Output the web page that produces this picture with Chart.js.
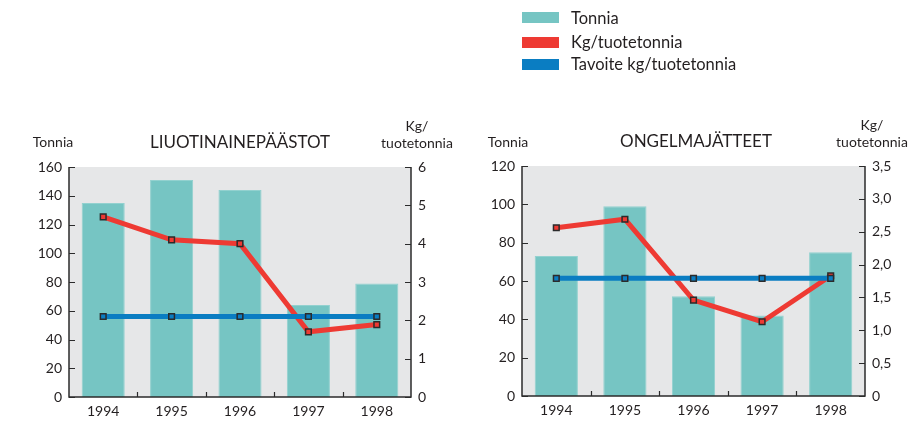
<!DOCTYPE html>
<html>
<head>
<meta charset="utf-8">
<script src="https://cdn.jsdelivr.net/npm/chart.js@4"></script>
<style>
  html,body{margin:0;padding:0;background:#fff;}
  body{width:922px;height:428px;position:relative;overflow:hidden;font-family:Lato,"Open Sans",sans-serif;color:#231f20;}
  .t{position:absolute;white-space:nowrap;transform:translate(-50%,-50%);line-height:1;}
  .lg{position:absolute;white-space:nowrap;transform:translateY(-50%);line-height:1;font-size:16.5px;}
  .sw{position:absolute;width:37px;height:11px;}
  canvas{position:absolute;top:0;}
</style>
</head>
<body>
<canvas id="c1" width="460" height="428" style="left:0"></canvas>
<canvas id="c2" width="462" height="428" style="left:460px"></canvas>

<div class="sw" style="left:522px;top:12px;background:#76c5c3"></div>
<div class="lg" style="left:571px;top:18px">Tonnia</div>
<div class="sw" style="left:522px;top:37px;background:#ee3a33"></div>
<div class="lg" style="left:571px;top:42px">Kg/tuotetonnia</div>
<div class="sw" style="left:522px;top:59px;background:#0a7dc2"></div>
<div class="lg" style="left:571px;top:64px">Tavoite kg/tuotetonnia</div>

<div class="t" style="left:53px;top:142px;font-size:14px">Tonnia</div>
<div class="t" style="left:240px;top:141px;font-size:17px">LIUOTINAINEPÄÄSTOT</div>
<div class="t" style="left:417px;top:126px;font-size:14px">Kg/</div>
<div class="t" style="left:417px;top:143px;font-size:14px">tuotetonnia</div>

<div class="t" style="left:508px;top:142px;font-size:14px">Tonnia</div>
<div class="t" style="left:696px;top:140px;font-size:17px">ONGELMAJÄTTEET</div>
<div class="t" style="left:872px;top:125px;font-size:14px">Kg/</div>
<div class="t" style="left:872px;top:142px;font-size:14px">tuotetonnia</div>

<script>
// ---- data ----
const years = ['1994', '1995', '1996', '1997', '1998'];

const solventTonnes = [135, 151, 144, 64, 79];
const solventKgPerTonne = [4.70, 4.10, 4.00, 1.70, 1.89];
const solventTarget = [2.1, 2.1, 2.1, 2.1, 2.1];

const wasteTonnes = [73, 99, 52, 42, 75];
const wasteKgPerTonne = [2.56, 2.69, 1.46, 1.13, 1.83];
const wasteTarget = [1.79, 1.79, 1.79, 1.79, 1.79];

const leftTicks1 = {min: 0, max: 160, step: 20};
const rightTicks1 = {min: 0, max: 6, step: 1};
const leftTicks2 = {min: 0, max: 120, step: 20};
const rightTicks2 = {min: 0, max: 3.5, step: 0.5};

// ---- styling ----
const TEXT = '#231f20';
const BAR = '#76c5c3';
const RED = '#ee3a33';
const BLUE = '#0a7dc2';
const AXIS = '#2b2b2b';
const FONT = 'Lato, "Open Sans", sans-serif';

const framePlugin = {
  id: 'frame',
  beforeDraw(chart) {
    const {ctx, chartArea: a} = chart;
    ctx.save();
    ctx.fillStyle = '#e6e7e8';
    ctx.fillRect(a.left, a.top, a.right - a.left, a.bottom - a.top);
    ctx.restore();
  },
  afterDatasetsDraw(chart) {
    const {ctx, chartArea: a, scales} = chart;
    ctx.save();
    ctx.strokeStyle = AXIS;
    ctx.lineWidth = 1.5;
    ctx.beginPath();
    ctx.moveTo(a.left, a.top); ctx.lineTo(a.left, a.bottom); ctx.lineTo(a.right, a.bottom); ctx.lineTo(a.right, a.top);
    ctx.stroke();
    ctx.lineWidth = 1.2;
    ctx.beginPath();
    scales.y.ticks.forEach((t, i) => {
      const y = Math.round(scales.y.getPixelForTick(i)) + 0.5;
      ctx.moveTo(a.left, y); ctx.lineTo(a.left + 6, y);
    });
    scales.y1.ticks.forEach((t, i) => {
      const y = Math.round(scales.y1.getPixelForTick(i)) + 0.5;
      ctx.moveTo(a.right - 6, y); ctx.lineTo(a.right, y);
    });
    const xs = scales.x;
    for (let i = 1; i < xs.ticks.length; i++) {
      const x = Math.round((xs.getPixelForTick(i - 1) + xs.getPixelForTick(i)) / 2) + 0.5;
      ctx.moveTo(x, a.bottom); ctx.lineTo(x, a.bottom - 5);
    }
    ctx.stroke();
    ctx.restore();
  }
};

function makeChart(id, tonnes, kg, target, lt, rt, dims, fmtRight) {
  const tickFont = {family: FONT, size: 14};
  return new Chart(document.getElementById(id), {
    data: {
      labels: years,
      datasets: [
        {
          type: 'line', data: target, yAxisID: 'y1', order: 1,
          borderColor: BLUE, borderWidth: 5, tension: 0,
          pointStyle: 'rect', pointRadius: 4, pointBackgroundColor: BLUE,
          pointBorderColor: AXIS, pointBorderWidth: 1.5
        },
        {
          type: 'line', data: kg, yAxisID: 'y1', order: 2,
          borderColor: RED, borderWidth: 5, tension: 0,
          pointStyle: 'rect', pointRadius: 4, pointBackgroundColor: RED,
          pointBorderColor: AXIS, pointBorderWidth: 1.5
        },
        {
          type: 'bar', data: tonnes, yAxisID: 'y', order: 3,
          backgroundColor: BAR, borderColor: '#92d1cf', borderWidth: 1,
          barPercentage: 0.63, categoryPercentage: 1
        }
      ]
    },
    options: {
      responsive: false,
      animation: false,
      events: [],
      layout: {padding: {top: dims.top, left: 0, right: 0, bottom: 0}},
      plugins: {legend: {display: false}, tooltip: {enabled: false}},
      scales: {
        x: {
          offset: true,
          grid: {display: false, drawTicks: false, drawOnChartArea: false},
          border: {display: false},
          ticks: {color: TEXT, font: tickFont, padding: 6, maxRotation: 0},
          afterFit(s) { s.height = dims.xh; }
        },
        y: {
          position: 'left', min: lt.min, max: lt.max,
          grid: {display: false, drawTicks: false, drawOnChartArea: false},
          border: {display: false},
          ticks: {stepSize: lt.step, color: TEXT, font: tickFont, padding: 7},
          afterFit(s) { s.width = dims.lw; }
        },
        y1: {
          position: 'right', min: rt.min, max: rt.max,
          grid: {display: false, drawTicks: false, drawOnChartArea: false},
          border: {display: false},
          ticks: {stepSize: rt.step, color: TEXT, font: tickFont, padding: 7, callback: fmtRight},
          afterFit(s) { s.width = dims.rw; }
        }
      }
    },
    plugins: [framePlugin]
  });
}

makeChart('c1', solventTonnes, solventKgPerTonne, solventTarget, leftTicks1, rightTicks1,
  {top: 167, xh: 31, lw: 69, rw: 49}, v => String(v));
makeChart('c2', wasteTonnes, wasteKgPerTonne, wasteTarget, leftTicks2, rightTicks2,
  {top: 166, xh: 32, lw: 62, rw: 57}, v => v === 0 ? '0' : v.toFixed(1).replace('.', ','));
</script>
</body>
</html>
